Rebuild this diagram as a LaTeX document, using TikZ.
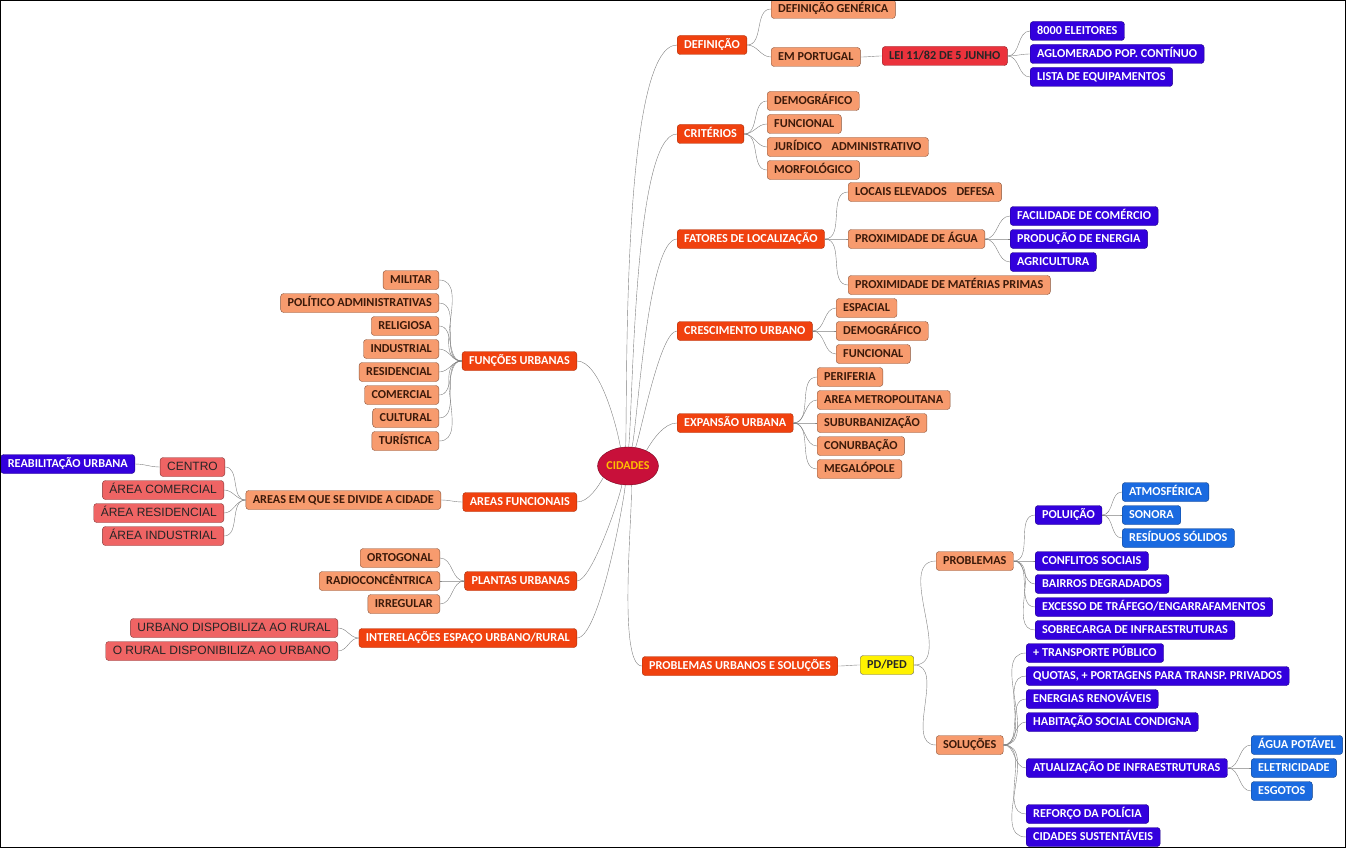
\documentclass[tikz,border=0pt]{standalone}
\usepackage{fontspec}
\setmainfont{Carlito}
\newfontfamily\areafont{Liberation Sans}
\usetikzlibrary{positioning, shapes.geometric}
\definecolor{rootred}{HTML}{C8103A}
\definecolor{rootgold}{HTML}{FFC000}
\definecolor{topicred}{HTML}{F0410F}
\definecolor{suborange}{HTML}{F79B6E}
\definecolor{subtext}{HTML}{3C1A0A}
\definecolor{leafblue}{HTML}{3300DD}
\definecolor{leaflight}{HTML}{1A6AE0}
\definecolor{areapink}{HTML}{EF6464}
\definecolor{leired}{HTML}{EB323C}
\tikzset{
	x=1pt, y=-1pt, % pixel-like coordinates
	box/.style={rounded corners=3pt, minimum height=19pt, inner xsep=7pt, inner ysep=0pt,
		text height=8.8pt, text depth=2.4pt, font=\bfseries\fontsize{12.2}{13}\selectfont},
	topic/.style={box, fill=topicred, draw=topicred!70!black, text=white},
	sub/.style={box, fill=suborange, draw=suborange!55!black, text=subtext},
	leaf/.style={box, fill=leafblue, draw=leafblue!60!black, text=white},
	leaflt/.style={box, fill=leaflight, draw=leaflight!60!black, text=white},
	areabox/.style={box, fill=areapink, draw=areapink!55!black, text=black!85,
		font=\areafont\fontsize{12}{13}\selectfont},
	lei/.style={box, fill=leired, draw=leired!60!black, text=black!85},
	pdbox/.style={box, fill=yellow, draw=black!60, text=black!85},
	link/.style={draw=black!50, thin},
	trunk/.style={looseness=0.35},
}
\begin{document}
\begin{tikzpicture}
	\useasboundingbox (0,0) rectangle (1346,848);
	% centre
	\node[ellipse, fill=rootred, draw=rootred!60!black, minimum width=60pt, minimum height=38pt,
		inner sep=0pt, text=rootgold, font=\bfseries\fontsize{12}{13}\selectfont] (root) at (628,466) {CIDADES};

	% right side
	\node[topic, anchor=west] (def) at (677,45) {DEFINIÇÃO};
	\node[sub, anchor=west] (defgen) at (771,9) {DEFINIÇÃO GENÉRICA};
	\node[sub, anchor=west] (empt) at (771,57) {EM PORTUGAL};
	\node[lei, anchor=west] (lei) at (882,56) {LEI 11/82 DE 5 JUNHO};
	\node[leaf, anchor=west] (eleit) at (1030,31) {8000 ELEITORES};
	\node[leaf, anchor=west] (aglom) at (1030,54) {AGLOMERADO POP. CONTÍNUO};
	\node[leaf, anchor=west] (lista) at (1030,77) {LISTA DE EQUIPAMENTOS};

	\node[topic, anchor=west] (crit) at (677,134) {CRITÉRIOS};
	\node[sub, anchor=west] (demoa) at (767,101) {DEMOGRÁFICO};
	\node[sub, anchor=west] (funca) at (767,124) {FUNCIONAL};
	\node[sub, anchor=west] (jurid) at (767,147) {JURÍDICO\hspace{0.8em}ADMINISTRATIVO};
	\node[sub, anchor=west] (morf) at (767,170) {MORFOLÓGICO};

	\node[topic, anchor=west] (fat) at (677,239) {FATORES DE LOCALIZAÇÃO};
	\node[sub, anchor=west] (locais) at (848,192) {LOCAIS ELEVADOS\hspace{0.8em}DEFESA};
	\node[sub, anchor=west] (agua) at (848,239) {PROXIMIDADE DE ÁGUA};
	\node[leaf, anchor=west] (facil) at (1010,216) {FACILIDADE DE COMÉRCIO};
	\node[leaf, anchor=west] (prod) at (1010,239) {PRODUÇÃO DE ENERGIA};
	\node[leaf, anchor=west] (agri) at (1010,262) {AGRICULTURA};
	\node[sub, anchor=west] (mater) at (848,285) {PROXIMIDADE DE MATÉRIAS PRIMAS};

	\node[topic, anchor=west] (cresc) at (677,331) {CRESCIMENTO URBANO};
	\node[sub, anchor=west] (espac) at (836,308) {ESPACIAL};
	\node[sub, anchor=west] (demob) at (836,331) {DEMOGRÁFICO};
	\node[sub, anchor=west] (funcb) at (836,354) {FUNCIONAL};

	\node[topic, anchor=west] (expan) at (677,423) {EXPANSÃO URBANA};
	\node[sub, anchor=west] (perif) at (817,377) {PERIFERIA};
	\node[sub, anchor=west] (metro) at (817,400) {AREA METROPOLITANA};
	\node[sub, anchor=west] (subur) at (817,423) {SUBURBANIZAÇÃO};
	\node[sub, anchor=west] (conur) at (817,446) {CONURBAÇÃO};
	\node[sub, anchor=west] (megal) at (817,469) {MEGALÓPOLE};

	\node[topic, anchor=west] (probu) at (642,666) {PROBLEMAS URBANOS E SOLUÇÕES};
	\node[pdbox, anchor=west] (pd) at (860,665) {PD/PED};
	\node[sub, anchor=west] (probl) at (936,561) {PROBLEMAS};
	\node[sub, anchor=west] (solu) at (936,745) {SOLUÇÕES};
	\node[leaf, anchor=west] (polu) at (1035,515) {POLUIÇÃO};
	\node[leaflt, anchor=west] (atmo) at (1122,492) {ATMOSFÉRICA};
	\node[leaflt, anchor=west] (sono) at (1122,515) {SONORA};
	\node[leaflt, anchor=west] (resid) at (1122,538) {RESÍDUOS SÓLIDOS};
	\node[leaf, anchor=west] (confl) at (1035,561) {CONFLITOS SOCIAIS};
	\node[leaf, anchor=west] (bairr) at (1035,584) {BAIRROS DEGRADADOS};
	\node[leaf, anchor=west] (exces) at (1035,607) {EXCESSO DE TRÁFEGO/ENGARRAFAMENTOS};
	\node[leaf, anchor=west] (sobre) at (1035,630) {SOBRECARGA DE INFRAESTRUTURAS};
	\node[leaf, anchor=west] (trans) at (1026,653) {+ TRANSPORTE PÚBLICO};
	\node[leaf, anchor=west] (quota) at (1026,676) {QUOTAS, + PORTAGENS PARA TRANSP. PRIVADOS};
	\node[leaf, anchor=west] (energ) at (1026,699) {ENERGIAS RENOVÁVEIS};
	\node[leaf, anchor=west] (habit) at (1026,722) {HABITAÇÃO SOCIAL CONDIGNA};
	\node[leaf, anchor=west] (atual) at (1026,768) {ATUALIZAÇÃO DE INFRAESTRUTURAS};
	\node[leaflt, anchor=west] (agpot) at (1251,745) {ÁGUA POTÁVEL};
	\node[leaflt, anchor=west] (eletr) at (1251,768) {ELETRICIDADE};
	\node[leaflt, anchor=west] (esgot) at (1251,791) {ESGOTOS};
	\node[leaf, anchor=west] (refor) at (1026,814) {REFORÇO DA POLÍCIA};
	\node[leaf, anchor=west] (sust) at (1026,837) {CIDADES SUSTENTÁVEIS};

	% left side
	\node[topic, anchor=east] (funcu) at (577,361) {FUNÇÕES URBANAS};
	\node[sub, anchor=east] (milit) at (439,280) {MILITAR};
	\node[sub, anchor=east] (polit) at (439,303) {POLÍTICO ADMINISTRATIVAS};
	\node[sub, anchor=east] (relig) at (439,326) {RELIGIOSA};
	\node[sub, anchor=east] (indus) at (439,349) {INDUSTRIAL};
	\node[sub, anchor=east] (resd) at (439,372) {RESIDENCIAL};
	\node[sub, anchor=east] (comer) at (439,395) {COMERCIAL};
	\node[sub, anchor=east] (cultu) at (439,418) {CULTURAL};
	\node[sub, anchor=east] (turis) at (439,441) {TURÍSTICA};

	\node[topic, anchor=east] (areaf) at (577,502) {AREAS FUNCIONAIS};
	\node[sub, anchor=east] (areas) at (441,500) {AREAS EM QUE SE DIVIDE A CIDADE};
	\node[areabox, anchor=east] (centro) at (225,467) {CENTRO};
	\node[areabox, anchor=east] (acom) at (224,490) {ÁREA COMERCIAL};
	\node[areabox, anchor=east] (ares) at (224,513) {ÁREA RESIDENCIAL};
	\node[areabox, anchor=east] (aind) at (224,536) {ÁREA INDUSTRIAL};
	\node[leaf, anchor=east] (reab) at (135,464) {REABILITAÇÃO URBANA};

	\node[topic, anchor=east] (plant) at (577,581) {PLANTAS URBANAS};
	\node[sub, anchor=east] (ortog) at (440,558) {ORTOGONAL};
	\node[sub, anchor=east] (radio) at (440,581) {RADIOCONCÊNTRICA};
	\node[sub, anchor=east] (irreg) at (440,604) {IRREGULAR};

	\node[topic, anchor=east] (inter) at (577,638) {INTERELAÇÕES ESPAÇO URBANO/RURAL};
	\node[areabox, anchor=east] (urb) at (338,628) {URBANO DISPOBILIZA AO RURAL};
	\node[areabox, anchor=east] (rur) at (338,651) {O RURAL DISPONIBILIZA AO URBANO};

	% branches from the centre
	\draw[link] (root.97) edge[trunk, out=88, in=180] (def.west)
			(root.88) edge[trunk, out=84, in=180] (crit.west)
			(root.78) edge[trunk, out=78, in=180] (fat.west)
			(root.68) edge[trunk, out=70, in=180] (cresc.west)
			(root.40) edge[out=60, in=180, looseness=0.8] (expan.west)
			(root.-80) edge[trunk, out=-86, in=180] (probu.west)
			(root.112) edge[out=100, in=0, looseness=0.6] (funcu.east)
			(root.205) edge[out=-120, in=0, looseness=0.8] (areaf.east)
			(root.252) edge[trunk, out=-100, in=0] (plant.east)
			(root.262) edge[trunk, out=-96, in=0] (inter.east);

	% right branches
	\draw[link] (def.east) edge[out=0, in=180] (defgen.west) edge[out=0, in=180] (empt.west);
	\draw[link] (empt.east) edge[out=0, in=180] (lei.west);
	\draw[link] (lei.east) edge[out=0, in=180] (eleit.west) edge[out=0, in=180] (aglom.west)
			edge[out=0, in=180] (lista.west);
	\draw[link] (crit.east) edge[out=0, in=180] (demoa.west) edge[out=0, in=180] (funca.west)
			edge[out=0, in=180] (jurid.west) edge[out=0, in=180] (morf.west);
	\draw[link] (fat.east) edge[out=0, in=180] (locais.west) edge[out=0, in=180] (agua.west)
			edge[out=0, in=180] (mater.west);
	\draw[link] (agua.east) edge[out=0, in=180] (facil.west) edge[out=0, in=180] (prod.west)
			edge[out=0, in=180] (agri.west);
	\draw[link] (cresc.east) edge[out=0, in=180] (espac.west) edge[out=0, in=180] (demob.west)
			edge[out=0, in=180] (funcb.west);
	\draw[link] (expan.east) edge[out=0, in=180] (perif.west) edge[out=0, in=180] (metro.west)
			edge[out=0, in=180] (subur.west) edge[out=0, in=180] (conur.west)
			edge[out=0, in=180] (megal.west);
	\draw[link] (probu.east) edge[out=0, in=180] (pd.west);
	\draw[link] (pd.east) edge[out=0, in=180] (probl.west) edge[out=0, in=180] (solu.west);
	\draw[link] (probl.east) edge[out=0, in=180] (polu.west) edge[out=0, in=180] (confl.west)
			edge[out=0, in=180] (bairr.west) edge[out=0, in=180] (exces.west)
			edge[out=0, in=180] (sobre.west);
	\draw[link] (polu.east) edge[out=0, in=180] (atmo.west) edge[out=0, in=180] (sono.west)
			edge[out=0, in=180] (resid.west);
	\draw[link] (solu.east) edge[out=0, in=180] (trans.west) edge[out=0, in=180] (quota.west)
			edge[out=0, in=180] (energ.west) edge[out=0, in=180] (habit.west)
			edge[out=0, in=180] (atual.west) edge[out=0, in=180] (refor.west)
			edge[out=0, in=180] (sust.west);
	\draw[link] (atual.east) edge[out=0, in=180] (agpot.west) edge[out=0, in=180] (eletr.west)
			edge[out=0, in=180] (esgot.west);

	% left branches
	\draw[link] (funcu.west) edge[out=180, in=0] (milit.east) edge[out=180, in=0] (polit.east)
			edge[out=180, in=0] (relig.east) edge[out=180, in=0] (indus.east)
			edge[out=180, in=0] (resd.east) edge[out=180, in=0] (comer.east)
			edge[out=180, in=0] (cultu.east) edge[out=180, in=0] (turis.east);
	\draw[link] (areaf.west) edge[out=180, in=0] (areas.east);
	\draw[link] (areas.west) edge[out=180, in=0] (centro.east) edge[out=180, in=0] (acom.east)
			edge[out=180, in=0] (ares.east) edge[out=180, in=0] (aind.east);
	\draw[link] (centro.west) edge[out=180, in=0] (reab.east);
	\draw[link] (plant.west) edge[out=180, in=0] (ortog.east) edge[out=180, in=0] (radio.east)
			edge[out=180, in=0] (irreg.east);
	\draw[link] (inter.west) edge[out=180, in=0] (urb.east) edge[out=180, in=0] (rur.east);

	% frame
	\draw[black, line width=1.5pt] (0,0) rectangle (1346,848);
\end{tikzpicture}
\end{document}
